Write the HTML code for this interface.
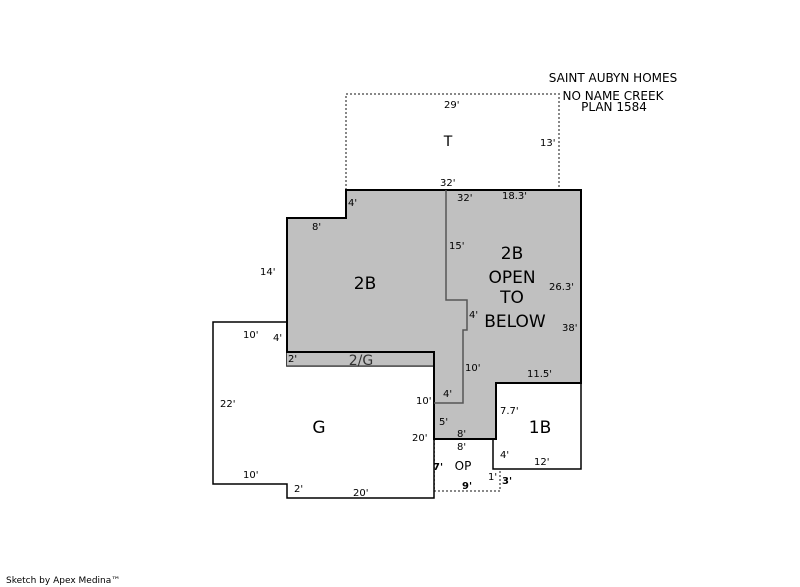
<!DOCTYPE html>
<html><head><style>body{margin:0;background:#fff}svg{display:block}</style></head><body>
<svg width="800" height="587" xmlns="http://www.w3.org/2000/svg" font-family="DejaVu Sans, Liberation Sans, sans-serif">
<rect width="800" height="587" fill="#fff"/>
<path d="M346,190 V94 H559 V190" fill="none" stroke="#888" stroke-width="2" stroke-dasharray="2,2"/>
<path d="M434,439 V491 H500 V469" fill="none" stroke="#888" stroke-width="2" stroke-dasharray="2,2"/>
<path d="M213,322 H287 V366 H434 V498 H287 V484 H213 Z" fill="#fff" stroke="#000" stroke-width="1.5"/>
<path d="M493,439 V469 H581 V383 H496" fill="#fff" stroke="#000" stroke-width="1.5"/>
<rect x="287" y="352" width="147" height="14" fill="#c0c0c0"/>
<line x1="287" y1="366" x2="434" y2="366" stroke="#555" stroke-width="1.5"/>
<path d="M346,190 H581 V383 H496 V439 H434 V352 H287 V218 H346 Z" fill="#c0c0c0" stroke="#000" stroke-width="2"/>
<path d="M446,190 V300 H467 V330 H463 V403 H434" fill="none" stroke="#555" stroke-width="1.5"/>
<line x1="434" y1="439" x2="493" y2="439" stroke="#000" stroke-width="1.5"/>
<g font-size="10" fill="#000">
<text x="444" y="108">29'</text>
<text x="540" y="146">13'</text>
<text x="440" y="186">32'</text>
<text x="457" y="201">32'</text>
<text x="502" y="199">18.3'</text>
<text x="348" y="206">4'</text>
<text x="312" y="230">8'</text>
<text x="449" y="249">15'</text>
<text x="260" y="275">14'</text>
<text x="549" y="290">26.3'</text>
<text x="469" y="318">4'</text>
<text x="562" y="331">38'</text>
<text x="243" y="338">10'</text>
<text x="273" y="341">4'</text>
<text x="288" y="362">2'</text>
<text x="465" y="371">10'</text>
<text x="527" y="377">11.5'</text>
<text x="443" y="397">4'</text>
<text x="220" y="407">22'</text>
<text x="416" y="404">10'</text>
<text x="500" y="414">7.7'</text>
<text x="439" y="425">5'</text>
<text x="457" y="437">8'</text>
<text x="412" y="441">20'</text>
<text x="457" y="450">8'</text>
<text x="500" y="458">4'</text>
<text x="534" y="465">12'</text>
<text x="243" y="478">10'</text>
<text x="488" y="480">1'</text>
<text x="294" y="492">2'</text>
<text x="353" y="496">20'</text>
<text x="433" y="470" font-weight="bold">7'</text>
<text x="462" y="489" font-weight="bold">9'</text>
<text x="502" y="484" font-weight="bold">3'</text>
</g>
<g font-size="17" fill="#000" text-anchor="middle">
<text x="365" y="289">2B</text>
<text x="512" y="259">2B</text>
<text x="512" y="283">OPEN</text>
<text x="512" y="303">TO</text>
<text x="515" y="327">BELOW</text>
<text x="319" y="433">G</text>
<text x="540" y="433">1B</text>
</g>
<text x="448" y="146" font-size="14" text-anchor="middle">T</text>
<text x="361" y="365" font-size="14" text-anchor="middle" fill="#333">2/G</text>
<text x="463" y="470" font-size="12" text-anchor="middle">OP</text>
<g font-size="12" text-anchor="middle">
<text x="613" y="82">SAINT AUBYN HOMES</text>
<text x="613" y="100">NO NAME CREEK</text>
<text x="614" y="111">PLAN 1584</text>
</g>
<text x="6" y="583" font-size="9">Sketch by Apex Medina™</text>
</svg>
</body></html>
